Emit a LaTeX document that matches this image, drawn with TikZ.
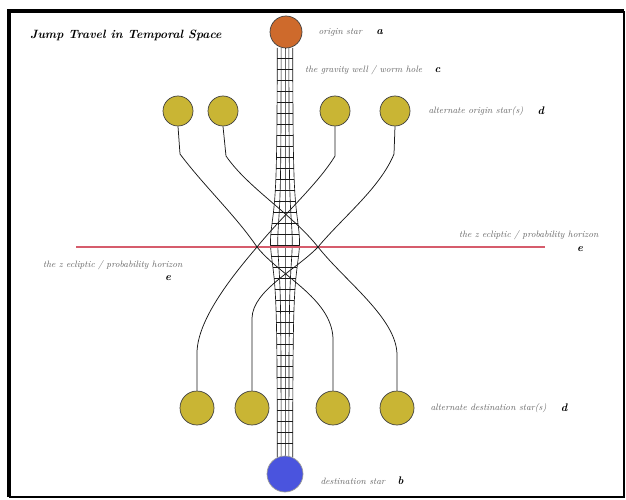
\documentclass[tikz,border=0pt]{standalone}
\usetikzlibrary{positioning}
\definecolor{starorange}{RGB}{206,106,44}
\definecolor{staryellow}{RGB}{201,181,52}
\definecolor{starblue}{RGB}{74,84,222}
\definecolor{horizonred}{RGB}{214,92,108}
\tikzset{
  declare function={hw(\t)=7.5+7/(1+((\t-242)/35)*((\t-242)/35));},
  orb/.style={circle, draw=black!75, line width=0.7pt, inner sep=0pt},
  altstar/.style={orb, fill=staryellow, minimum size=30pt},
  hole/.style={line width=0.65pt, black!90},
  link/.style={line width=0.75pt, black!90},
  note/.style={inner sep=0pt, text=black!60, font=\itshape\fontsize{9.2}{11}\selectfont},
  tag/.style={inner sep=0pt, font=\bfseries\itshape\fontsize{11}{13}\selectfont}
}
\begin{document}
\begin{tikzpicture}[x=1pt, y=-1pt]
\useasboundingbox (0,0) rectangle (626,500);
% frame
\draw[line width=3.5pt] (9,497) -- (9,11) -- (624,11);
\draw[line width=1.5pt] (624,11) -- (624,497) -- (9,497);
\node[anchor=west, inner sep=0pt, font=\bfseries\itshape\fontsize{12}{14}\selectfont] (title) at (30,35) {Jump Travel in Temporal Space};
% worm hole
\foreach \k in {-1,-0.5,0,0.5,1} {
  \draw[hole] plot[domain=48:457, samples=90, smooth] ({285+\k*hw(\x)}, \x);
}
\foreach \y in {58,69,...,448} {
  \draw[hole] ({285-hw(\y)},\y) -- ({285+hw(\y)},\y);
}
% horizon
\coordinate (hzleft) at (76,247);
\coordinate (hzright) at (545,247);
\draw[draw=horizonred, line width=1.1pt] (hzleft) -- (hzright);
% stars
\node[orb, fill=starorange, minimum size=32pt] (origin) at (286,32) {};
\node[orb, fill=starblue, draw=black!40, minimum size=36pt] (dest) at (285,474) {};
\foreach \n/\x in {1/178, 2/223, 3/335, 4/395} {
  \node[altstar] (u\n) at (\x,111) {};
}
\foreach \n/\x in {1/197, 2/252, 3/333, 4/397} {
  \node[altstar, minimum size=34pt] (l\n) at (\x,408) {};
}
% crossing paths
\draw[link] (u1.south) -- (180,154) .. controls (204,186) and (236,216) .. (257,247)
  .. controls (280,276) and (331,298) .. (333,338) -- (l3.north);
\draw[link] (u3.south) -- (335,156) .. controls (318,184) and (284,214) .. (257,247)
  .. controls (234,274) and (198,318) .. (197,352) -- (l1.north);
\draw[link] (u2.south) -- (226,156) .. controls (248,188) and (292,214) .. (318,247)
  .. controls (296,270) and (253,290) .. (252,318) -- (l2.north);
\draw[link] (u4.south) -- (394,154) .. controls (380,188) and (344,216) .. (318,247)
  .. controls (346,282) and (396,318) .. (397,354) -- (l4.north);
% labels
\node[note, right=16pt of origin] (originlbl) {origin star};
\node[tag, right=14pt of originlbl] (taga) {a};
\node[note, anchor=west] (welllbl) at (305,70) {the gravity well / worm hole};
\node[tag, right=12pt of welllbl] (tagc) {c};
\node[note, right=18pt of u4] (altorigin) {alternate origin star(s)};
\node[tag, right=14pt of altorigin] (tagd) {d};
\node[note, anchor=west] (hzrlbl) at (459,235) {the z ecliptic / probability horizon};
\node[tag] (tage) at (580,249) {e};
\node[note, anchor=west] (hzllbl) at (43,265) {the z ecliptic / probability horizon};
\node[tag] (tagee) at (168,278) {e};
\node[note, right=16pt of l4] (altdest) {alternate destination star(s)};
\node[tag, right=14pt of altdest] (tagdd) {d};
\node[note, right=17pt of dest, yshift=-7pt] (destlbl) {destination star};
\node[tag, right=12pt of destlbl] (tagb) {b};
\end{tikzpicture}
\end{document}
